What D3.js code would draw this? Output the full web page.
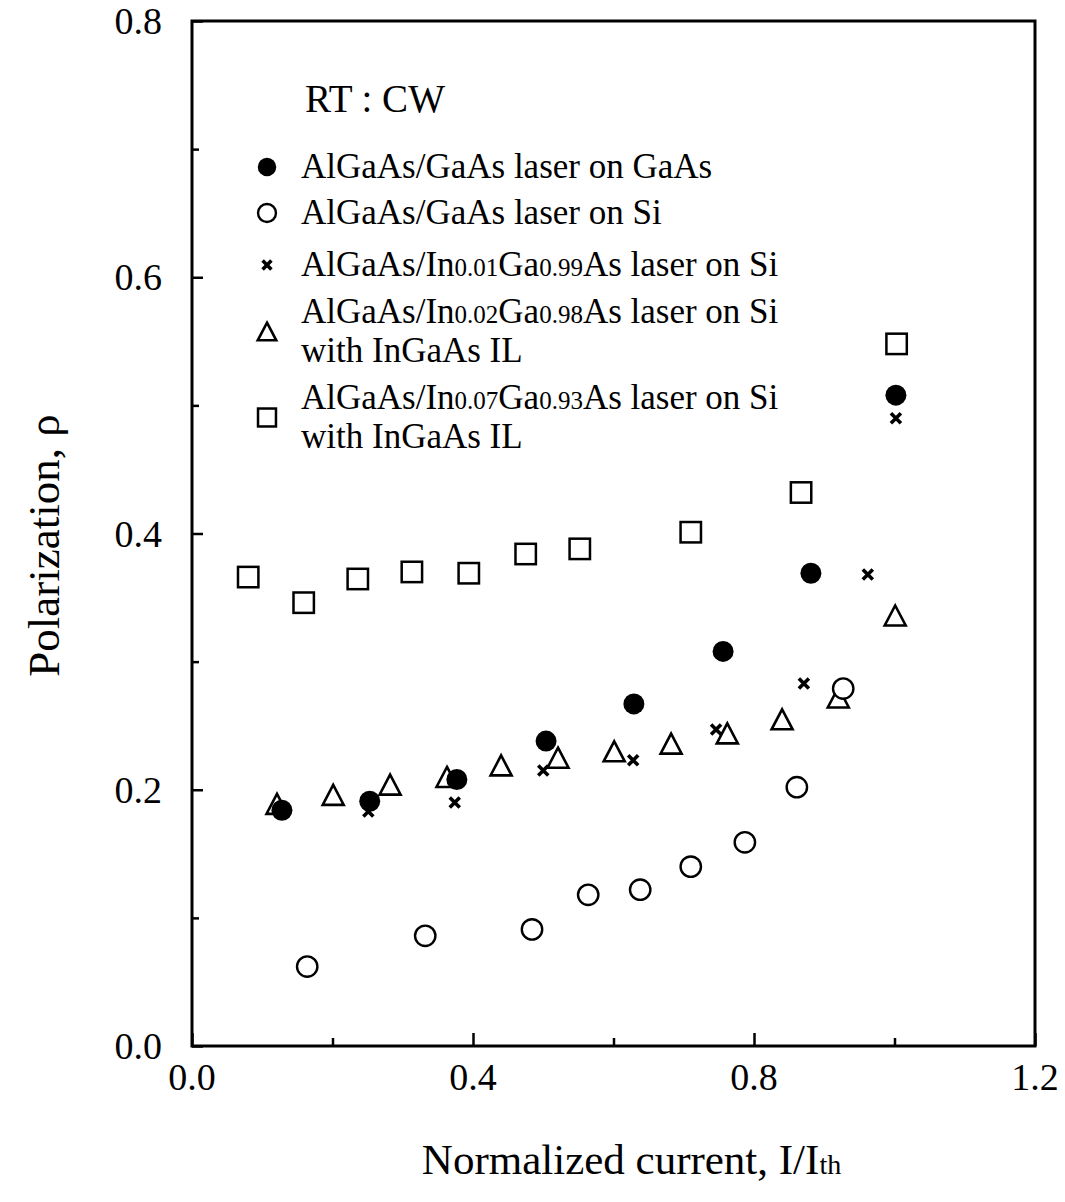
<!DOCTYPE html>
<html>
<head>
<meta charset="utf-8">
<script src="https://cdn.jsdelivr.net/npm/d3@7"></script>
<style>
  html, body { margin: 0; padding: 0; background: #fff; }
  svg { display: block; }
  text { font-family: "Liberation Serif", "Times New Roman", serif; fill: #000; }
</style>
</head>
<body>
<svg id="chart" width="1065" height="1202"></svg>
<script>
// Polarization vs normalized current for several laser structures (RT, CW)

// AlGaAs/GaAs laser on GaAs (filled circles)
const xOnGaAs = [0.128, 0.253, 0.377, 0.504, 0.629, 0.756, 0.881, 1.002];
const yOnGaAs = [0.184, 0.191, 0.208, 0.238, 0.267, 0.308, 0.369, 0.508];
// AlGaAs/GaAs laser on Si (open circles)
const xOnSi = [0.164, 0.332, 0.484, 0.564, 0.638, 0.710, 0.787, 0.861, 0.927];
const yOnSi = [0.062, 0.086, 0.091, 0.118, 0.122, 0.140, 0.159, 0.202, 0.279];
// AlGaAs/In0.01Ga0.99As laser on Si (crosses)
const xIn01 = [0.251, 0.374, 0.500, 0.628, 0.746, 0.871, 0.962, 1.002];
const yIn01 = [0.183, 0.190, 0.215, 0.223, 0.247, 0.283, 0.368, 0.490];
// AlGaAs/In0.02Ga0.98As laser on Si with InGaAs IL (triangles)
const xIn02 = [0.121, 0.201, 0.282, 0.363, 0.440, 0.521, 0.601, 0.682, 0.762, 0.840, 0.920, 1.001];
const yIn02 = [0.189, 0.196, 0.204, 0.210, 0.219, 0.225, 0.230, 0.236, 0.244, 0.255, 0.272, 0.336];
// AlGaAs/In0.07Ga0.93As laser on Si with InGaAs IL (squares)
const xIn07 = [0.080, 0.159, 0.236, 0.313, 0.394, 0.475, 0.552, 0.710, 0.867, 1.003];
const yIn07 = [0.366, 0.346, 0.3645, 0.370, 0.369, 0.384, 0.388, 0.401, 0.432, 0.548];

// Axis ticks
const xMajorTicks = [0.0, 0.4, 0.8, 1.2];
const xMinorTicks = [0.2, 0.6, 1.0];
const yMajorTicks = [0.0, 0.2, 0.4, 0.6, 0.8];
const yMinorTicks = [0.1, 0.3, 0.5, 0.7];

// Legend entries; {..} marks small composition digits
const legendTitle = "RT : CW";
const legendShapes = ["dot", "ring", "cross", "triangle", "square"];
const legendLabels = [
  ["AlGaAs/GaAs laser on GaAs"],
  ["AlGaAs/GaAs laser on Si"],
  ["AlGaAs/In{0.01}Ga{0.99}As laser on Si"],
  ["AlGaAs/In{0.02}Ga{0.98}As laser on Si", "with InGaAs IL"],
  ["AlGaAs/In{0.07}Ga{0.93}As laser on Si", "with InGaAs IL"]
];

const svg = d3.select("#chart");
const plotLeft = 192, plotRight = 1035, plotTop = 21, plotBottom = 1046;

const x = d3.scaleLinear().domain([0, 1.2]).range([plotLeft, plotRight]);
const y = d3.scaleLinear().domain([0, 0.8]).range([plotBottom, plotTop]);

// ---- marker drawing ----
function drawMarker(g, shape, cx, cy, s) {
  s = s || 1;
  if (shape === "dot") {
    g.append("circle").attr("cx", cx).attr("cy", cy).attr("r", 10.5 * s)
      .attr("fill", "#000");
  } else if (shape === "ring") {
    g.append("circle").attr("cx", cx).attr("cy", cy).attr("r", 10.2 * s)
      .attr("fill", "#fff").attr("stroke", "#000").attr("stroke-width", 2.4);
  } else if (shape === "square") {
    const h = 10.2 * s;
    g.append("rect").attr("x", cx - h).attr("y", cy - h)
      .attr("width", 2 * h).attr("height", 2 * h)
      .attr("fill", "#fff").attr("stroke", "#000").attr("stroke-width", 2.5);
  } else if (shape === "triangle") {
    const w = 10.5 * s, hh = 10 * s;
    const p = d3.path();
    p.moveTo(cx, cy - hh);
    p.lineTo(cx + w, cy + hh);
    p.lineTo(cx - w, cy + hh);
    p.closePath();
    g.append("path").attr("d", p.toString())
      .attr("fill", "#fff").attr("stroke", "#000").attr("stroke-width", 2.6)
      .attr("stroke-linejoin", "miter");
  } else if (shape === "cross") {
    const a = 5 * s;
    const p = d3.path();
    p.moveTo(cx - a, cy - a); p.lineTo(cx + a, cy + a);
    p.moveTo(cx + a, cy - a); p.lineTo(cx - a, cy + a);
    g.append("path").attr("d", p.toString())
      .attr("stroke", "#000").attr("stroke-width", 3.6).attr("fill", "none");
  }
}

// ---- axes (inward ticks) ----
const axisFont = 38;
function styleAxis(g) {
  g.select(".domain").remove();
  g.selectAll(".tick line").attr("stroke", "#000").attr("stroke-width", 2.5);
}

svg.append("g").attr("transform", `translate(0,${plotBottom})`)
  .call(d3.axisBottom(x).tickValues(xMajorTicks).tickSize(-13).tickFormat(""))
  .call(styleAxis);
svg.append("g").attr("transform", `translate(0,${plotBottom})`)
  .call(d3.axisBottom(x).tickValues(xMinorTicks).tickSize(-8).tickFormat(""))
  .call(styleAxis);
svg.append("g").attr("transform", `translate(${plotLeft},0)`)
  .call(d3.axisLeft(y).tickValues(yMajorTicks).tickSize(-11).tickFormat(""))
  .call(styleAxis);
svg.append("g").attr("transform", `translate(${plotLeft},0)`)
  .call(d3.axisLeft(y).tickValues(yMinorTicks).tickSize(-7).tickFormat(""))
  .call(styleAxis);

// tick labels
svg.append("g").selectAll("text").data(xMajorTicks).join("text")
  .attr("x", d => x(d)).attr("y", plotBottom + 44)
  .attr("text-anchor", "middle").attr("font-size", axisFont)
  .text(d => d3.format(".1f")(d));
svg.append("g").selectAll("text").data(yMajorTicks).join("text")
  .attr("x", plotLeft - 30).attr("y", d => y(d) + 13)
  .attr("text-anchor", "end").attr("font-size", axisFont)
  .text(d => d3.format(".1f")(d));

// frame
svg.append("rect").attr("x", plotLeft).attr("y", plotTop)
  .attr("width", plotRight - plotLeft).attr("height", plotBottom - plotTop)
  .attr("fill", "none").attr("stroke", "#000").attr("stroke-width", 3);

// axis titles
const xTitle = svg.append("text").attr("x", (plotLeft + plotRight) / 2 + 18).attr("y", 1174)
  .attr("text-anchor", "middle").attr("font-size", 43);
xTitle.append("tspan").text("Normalized current, I/I");
xTitle.append("tspan").attr("font-size", 28).text("th");

svg.append("text")
  .attr("transform", `translate(59,${(plotTop + plotBottom) / 2 + 12}) rotate(-90)`)
  .attr("text-anchor", "middle").attr("font-size", 45)
  .text("Polarization, \u03c1");

// ---- data marks ----
const marks = svg.append("g");
const series = [
  { shape: "square", xs: xIn07, ys: yIn07 },
  { shape: "triangle", xs: xIn02, ys: yIn02 },
  { shape: "ring", xs: xOnSi, ys: yOnSi },
  { shape: "cross", xs: xIn01, ys: yIn01 },
  { shape: "dot", xs: xOnGaAs, ys: yOnGaAs }
];
series.forEach(sr => {
  sr.xs.forEach((v, i) => drawMarker(marks, sr.shape, x(v), y(sr.ys[i])));
});

// ---- legend ----
const legend = svg.append("g");
legend.append("text").attr("x", 305).attr("y", 112)
  .attr("font-size", 39).text(legendTitle);

const legendFont = 35;
const lineGap = 39;
const rowBases = [178, 224, 276, 323, 409];
legendLabels.forEach((lines, i) => {
  const base = rowBases[i];
  const cy = base - 11 + (lines.length - 1) * lineGap / 2;
  drawMarker(legend, legendShapes[i], 267, cy, 0.88);
  lines.forEach((ln, j) => {
    const t = legend.append("text").attr("x", 301).attr("y", base + j * lineGap)
      .attr("font-size", legendFont);
    ln.split(/(\{[^}]*\})/).filter(s => s.length).forEach(part => {
      if (part[0] === "{") {
        t.append("tspan").attr("font-size", 25).text(part.slice(1, -1));
      } else {
        t.append("tspan").text(part);
      }
    });
  });
});
</script>
</body>
</html>
